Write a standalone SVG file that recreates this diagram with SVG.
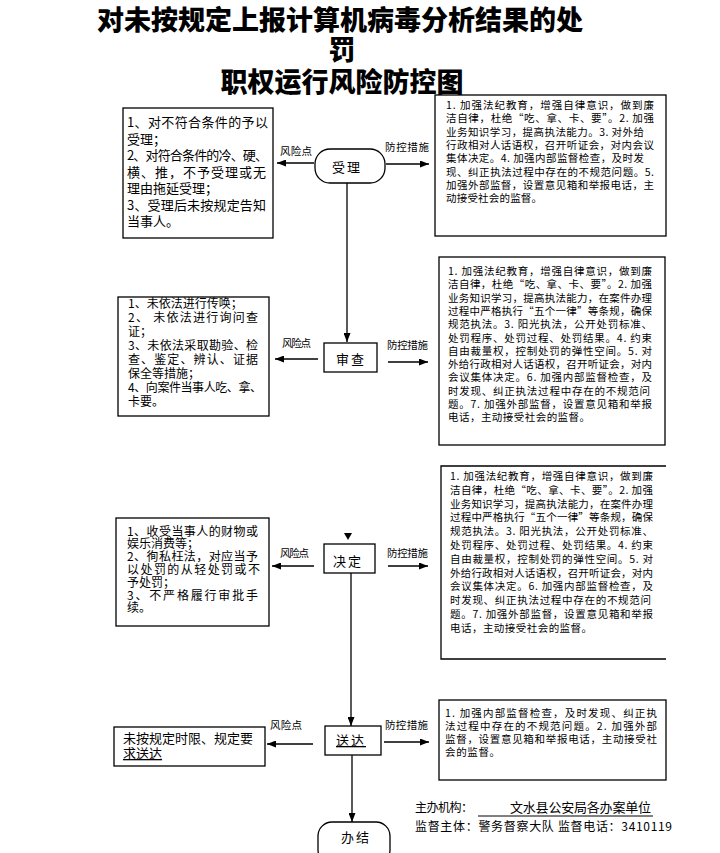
<svg xmlns="http://www.w3.org/2000/svg" width="720" height="853" viewBox="0 0 720 853">
<style>
text{font-family:"Noto Sans CJK SC","Noto Sans",sans-serif;fill:#000}
.title{font-size:27px;font-weight:900;text-anchor:middle}
.lt{font-size:13px}
.ls{font-size:12px}
.mt{font-size:10.5px}
.lab{font-size:10.5px}
.nt{font-size:13px;text-anchor:middle;letter-spacing:2px}
.box{fill:#fff;stroke:#000;stroke-width:1.3}
.con{stroke:#000;stroke-width:1.3;fill:none}
.ft{font-size:12px}
</style>
<defs>
<marker id="ah" markerUnits="userSpaceOnUse" markerWidth="9" markerHeight="7" refX="9" refY="3.5" orient="auto">
<path d="M0,0 L9,3.5 L0,7 z" fill="#000"/>
</marker>
</defs>
<rect width="720" height="853" fill="#fff"/>
<g id="title">
<text class="title" x="340" y="30">对未按规定上报计算机病毒分析结果的处</text>
<text class="title" x="342" y="60">罚</text>
<text class="title" x="342" y="92">职权运行风险防控图</text>
</g>
<g id="connectors">
<line class="con" x1="314" y1="163" x2="277" y2="163" marker-end="url(#ah)"/>
<line class="con" x1="386" y1="164" x2="429" y2="164" marker-end="url(#ah)"/>
<line class="con" x1="347" y1="183" x2="347" y2="342" marker-end="url(#ah)"/>
<line class="con" x1="318" y1="359" x2="275" y2="359" marker-end="url(#ah)"/>
<line class="con" x1="388" y1="362" x2="428" y2="362" marker-end="url(#ah)"/>
<polygon points="344,533 352,533 348,540" fill="#000"/>
<line class="con" x1="314" y1="566" x2="272" y2="566" marker-end="url(#ah)"/>
<line class="con" x1="388" y1="566" x2="428" y2="566" marker-end="url(#ah)"/>
<line class="con" x1="351" y1="573" x2="351" y2="726" marker-end="url(#ah)"/>
<line class="con" x1="313" y1="744" x2="267" y2="744" marker-end="url(#ah)"/>
<line class="con" x1="384" y1="742" x2="429" y2="742" marker-end="url(#ah)"/>
<line class="con" x1="352" y1="755" x2="352" y2="822" marker-end="url(#ah)"/>
<text class="lab" x="280" y="155" textLength="32">风险点</text>
<text class="lab" x="385" y="151" textLength="44">防控措施</text>
<text class="lab" x="282" y="347" textLength="29">风险点</text>
<text class="lab" x="387" y="349" textLength="41">防控措施</text>
<text class="lab" x="280" y="557" textLength="29">风险点</text>
<text class="lab" x="387" y="557" textLength="41">防控措施</text>
<text class="lab" x="270" y="729" textLength="32">风险点</text>
<text class="lab" x="385" y="729" textLength="43">防控措施</text>
</g>
<g id="n-shouli">
<rect class="box" x="315" y="149" width="70" height="34" rx="15"/>
<text class="nt" x="347" y="172">受理</text>
</g>
<g id="risk-shouli">
<rect class="box" x="123" y="108" width="150" height="130"/>
<text class="lt" x="127" y="127" textLength="141">1、对不符合条件的予以</text>
<text class="lt" x="127" y="143.5">受理；</text>
<text class="lt" x="127" y="160" textLength="141">2、对符合条件的冷、硬、</text>
<text class="lt" x="127" y="176.5" textLength="139">横、推，不予受理或无</text>
<text class="lt" x="127" y="193">理由拖延受理；</text>
<text class="lt" x="127" y="209.5" textLength="139">3、受理后未按规定告知</text>
<text class="lt" x="127" y="226">当事人。</text>
</g>
<g id="ctrl-shouli">
<rect class="box" x="435" y="95" width="231" height="141"/>
<text class="mt" x="446" y="109" textLength="208">1. 加强法纪教育，增强自律意识，做到廉</text>
<text class="mt" x="446" y="122.3" textLength="208">洁自律，杜绝“吃、拿、卡、要”。2. 加强</text>
<text class="mt" x="446" y="135.6" textLength="198">业务知识学习，提高执法能力。3. 对外给</text>
<text class="mt" x="446" y="148.9" textLength="208">行政相对人话语权，召开听证会，对内会议</text>
<text class="mt" x="446" y="162.2" textLength="198">集体决定。4. 加强内部监督检查，及时发</text>
<text class="mt" x="446" y="175.5" textLength="208">现、纠正执法过程中存在的不规范问题。5.</text>
<text class="mt" x="446" y="188.8" textLength="208">加强外部监督，设置意见箱和举报电话，主</text>
<text class="mt" x="446" y="202.1" textLength="96">动接受社会的监督。</text>
</g>
<g id="n-shencha">
<rect class="box" x="324" y="343" width="53" height="29"/>
<text class="nt" x="351" y="364">审查</text>
</g>
<g id="risk-shencha">
<rect class="box" x="118" y="297" width="151" height="119"/>
<text class="ls" x="128" y="307.5">1、未依法进行传唤；</text>
<text class="ls" x="128" y="321.5" textLength="130">2、 未依法进行询问查</text>
<text class="ls" x="128" y="335.5">证；</text>
<text class="ls" x="128" y="349.5" textLength="130">3、未依法采取勘验、检</text>
<text class="ls" x="128" y="363.5" textLength="130">查、鉴定、辨认、证据</text>
<text class="ls" x="128" y="377.5">保全等措施；</text>
<text class="ls" x="128" y="391.5" textLength="134">4、向案件当事人吃、拿、</text>
<text class="ls" x="128" y="405.5">卡要。</text>
</g>
<g id="ctrl-shencha">
<rect class="box" x="439" y="257" width="226" height="188"/>
<text class="mt" x="448" y="275" textLength="204">1. 加强法纪教育，增强自律意识，做到廉</text>
<text class="mt" x="448" y="288.3" textLength="204">洁自律，杜绝“吃、拿、卡、要”。2. 加强</text>
<text class="mt" x="448" y="301.6" textLength="204">业务知识学习，提高执法能力，在案件办理</text>
<text class="mt" x="448" y="314.9" textLength="204">过程中严格执行“五个一律”等条规，确保</text>
<text class="mt" x="448" y="328.2" textLength="204">规范执法。3. 阳光执法，公开处罚标准、</text>
<text class="mt" x="448" y="341.5" textLength="204">处罚程序、处罚过程、处罚结果。4. 约束</text>
<text class="mt" x="448" y="354.8" textLength="204">自由裁量权，控制处罚的弹性空间。5. 对</text>
<text class="mt" x="448" y="368.1" textLength="204">外给行政相对人话语权，召开听证会，对内</text>
<text class="mt" x="448" y="381.4" textLength="204">会议集体决定。6. 加强内部监督检查，及</text>
<text class="mt" x="448" y="394.7" textLength="202">时发现、纠正执法过程中存在的不规范问</text>
<text class="mt" x="448" y="408" textLength="204">题。7. 加强外部监督，设置意见箱和举报</text>
<text class="mt" x="448" y="421.3" textLength="142">电话，主动接受社会的监督。</text>
</g>
<g id="n-jueding">
<rect class="box" x="324" y="544" width="51" height="29"/>
<text class="nt" x="348" y="566">决定</text>
</g>
<g id="risk-jueding">
<rect class="box" x="116" y="518" width="153" height="108"/>
<text class="ls" x="127" y="535.5" textLength="131">1、收受当事人的财物或</text>
<text class="ls" x="127" y="548.3">娱乐消费等；</text>
<text class="ls" x="127" y="561.1" textLength="131">2、徇私枉法，对应当予</text>
<text class="ls" x="127" y="573.9" textLength="133">以处罚的从轻处罚或不</text>
<text class="ls" x="127" y="586.7">予处罚；</text>
<text class="ls" x="127" y="599.5" textLength="131">3、不严格履行审批手</text>
<text class="ls" x="127" y="612.3">续。</text>
</g>
<g id="ctrl-jueding">
<path class="box" d="M666,466 H441 V659 H666"/>
<text class="mt" x="450" y="480" textLength="203">1. 加强法纪教育，增强自律意识，做到廉</text>
<text class="mt" x="450" y="493.8" textLength="203">洁自律，杜绝“吃、拿、卡、要”。2. 加强</text>
<text class="mt" x="450" y="507.6" textLength="203">业务知识学习，提高执法能力，在案件办理</text>
<text class="mt" x="450" y="521.4" textLength="203">过程中严格执行“五个一律”等条规，确保</text>
<text class="mt" x="450" y="535.2" textLength="203">规范执法。3. 阳光执法，公开处罚标准、</text>
<text class="mt" x="450" y="549" textLength="203">处罚程序、处罚过程、处罚结果。4. 约束</text>
<text class="mt" x="450" y="562.8" textLength="203">自由裁量权，控制处罚的弹性空间。5. 对</text>
<text class="mt" x="450" y="576.6" textLength="203">外给行政相对人话语权，召开听证会，对内</text>
<text class="mt" x="450" y="590.4" textLength="203">会议集体决定。6. 加强内部监督检查，及</text>
<text class="mt" x="450" y="604.2" textLength="201">时发现、纠正执法过程中存在的不规范问</text>
<text class="mt" x="450" y="618" textLength="203">题。7. 加强外部监督，设置意见箱和举报</text>
<text class="mt" x="450" y="631.8" textLength="142">电话，主动接受社会的监督。</text>
</g>
<g id="n-songda">
<rect class="box" x="325" y="726" width="56" height="29"/>
<text class="nt" x="351" y="745" text-decoration="underline">送达</text>
</g>
<g id="risk-songda">
<rect class="box" x="114" y="727" width="151" height="39"/>
<text class="lt" x="123" y="743" textLength="130">未按规定时限、规定要</text>
<text class="lt" x="123" y="758" text-decoration="underline">求送达</text>
</g>
<g id="ctrl-songda">
<rect class="box" x="439" y="700" width="227" height="80"/>
<text class="mt" x="445" y="717" textLength="212">1. 加强内部监督检查，及时发现、纠正执</text>
<text class="mt" x="445" y="730" textLength="212">法过程中存在的不规范问题。2. 加强外部</text>
<text class="mt" x="445" y="743" textLength="212">监督，设置意见箱和举报电话，主动接受社</text>
<text class="mt" x="445" y="756" textLength="55">会的监督。</text>
</g>
<g id="n-banjie">
<rect class="box" x="318" y="822" width="72" height="42" rx="14"/>
<text class="nt" x="356" y="842">办结</text>
</g>
<g id="footer">
<text class="ft" x="415" y="812" textLength="58">主办机构：</text>
<line x1="478" y1="816" x2="653" y2="816" stroke="#000" stroke-width="1"/>
<text class="ft" x="510" y="812" textLength="141" style="font-size:13px">文水县公安局各办案单位</text>
<text class="ft" x="415" y="831" textLength="257">监督主体：警务督察大队 监督电话：3410119</text>
</g>
</svg>
